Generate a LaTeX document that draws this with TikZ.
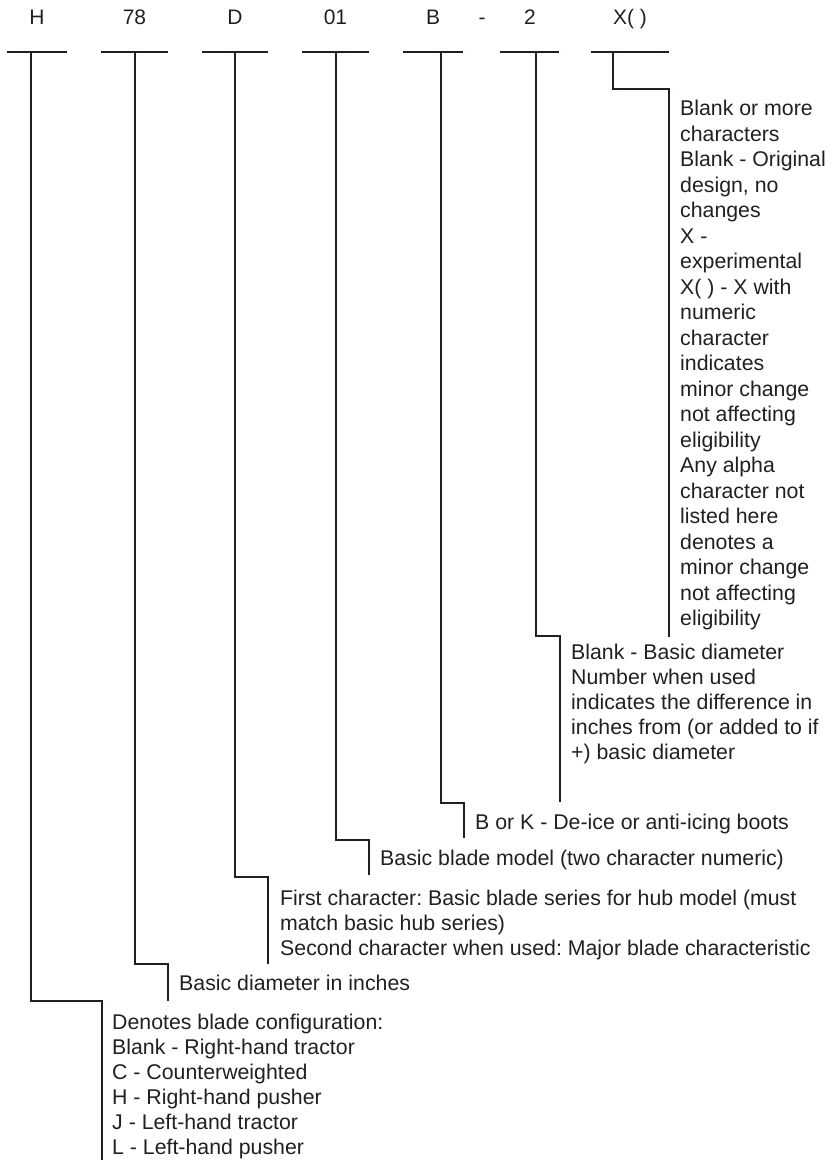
\documentclass[tikz,border=0pt]{standalone}
\usepackage{fontspec}
\setmainfont{Liberation Sans}
\definecolor{ink}{HTML}{231F20}
\frenchspacing
\begin{document}
\begin{tikzpicture}[x=1pt,y=-1pt,
  conn/.style={draw=ink, line width=2.6pt, line join=miter},
  bar/.style={draw=ink, line width=2.6pt},
  code/.style={text=ink, inner sep=0pt, anchor=base, font=\fontsize{21}{25}\selectfont},
  desc/.style={text=ink, inner sep=0pt, anchor=base west, align=left, font=\fontsize{21.3}{25}\selectfont},
  descx/.style={desc, font=\fontsize{21.3}{25.5}\selectfont}]
\useasboundingbox (0,0) rectangle (834,1160);
% code labels
\node[code] (lH) at (37,24.5) {H};
\node[code] (l78) at (134.5,24.5) {78};
\node[code] (lD) at (235,24.5) {D};
\node[code] (l01) at (335.5,24.5) {01};
\node[code] (lB) at (433,24.5) {B};
\node[code] (ldash) at (482,24.5) {-};
\node[code] (l2) at (530,24.5) {2};
\node[code] (lX) at (630,24.5) {X( )};
% bars
\coordinate (aH) at (7,52);   \coordinate (zH) at (67,52);
\coordinate (a78) at (101,52); \coordinate (z78) at (168,52);
\coordinate (aD) at (202,52); \coordinate (zD) at (268,52);
\coordinate (a01) at (302,52); \coordinate (z01) at (369,52);
\coordinate (aB) at (403,52); \coordinate (zB) at (463,52);
\coordinate (a2) at (500,52); \coordinate (z2) at (559,52);
\coordinate (aX) at (591,52); \coordinate (zX) at (669,52);
\foreach \k in {H,78,D,01,B,2,X} {\draw[bar] (a\k) -- (z\k);}
% junctions on bars
\coordinate (jH) at (31,52);
\coordinate (j78) at (135,52);
\coordinate (jD) at (235,52);
\coordinate (j01) at (336,52);
\coordinate (jB) at (441,52);
\coordinate (j2) at (536,52);
\coordinate (jX) at (613,52);
% corners
\coordinate (cH) at (102,1001);
\coordinate (c78) at (168,964);
\coordinate (cD) at (268,877);
\coordinate (c01) at (369,840);
\coordinate (cB) at (464,803);
\coordinate (c2) at (560,636);
\coordinate (cX) at (669,89);
% ends
\coordinate (eH) at (102,1160);
\coordinate (e78) at (168,1001);
\coordinate (eD) at (268,964);
\coordinate (e01) at (369,875);
\coordinate (eB) at (464,838);
\coordinate (e2) at (560,802);
\coordinate (eX) at (669,637);
% descriptions (anchored at the baseline of the last line)
\node[descx] (tX) at (680,625.5) {Blank or more\\characters\\Blank - Original\\design, no\\changes\\X -\\experimental\\X( ) - X with\\numeric\\character\\indicates\\minor change\\not affecting\\eligibility\\Any alpha\\character not\\listed here\\denotes a\\minor change\\not affecting\\eligibility};
\node[desc] (t2) at (571,759.5) {Blank - Basic diameter\\Number when used\\indicates the difference in\\inches from (or added to if\\+) basic diameter};
\node[desc] (tB) at (475,829.5) {B or K - De-ice or anti-icing boots};
\node[desc] (t01) at (380,865.5) {Basic blade model (two character numeric)};
\node[desc] (tD) at (280,955.5) {First character: Basic blade series for hub model (must\\match basic hub series)\\Second character when used: Major blade characteristic};
\node[desc] (t78) at (179,990.5) {Basic diameter in inches};
\node[desc] (tH) at (112,1154.5) {Denotes blade configuration:\\Blank - Right-hand tractor\\C - Counterweighted\\H - Right-hand pusher\\J - Left-hand tractor\\L - Left-hand pusher};
% connectors
\foreach \k in {H,78,D,01,B,2,X} {\draw[conn] (j\k) |- (c\k) -- (e\k);}
\end{tikzpicture}
\end{document}
